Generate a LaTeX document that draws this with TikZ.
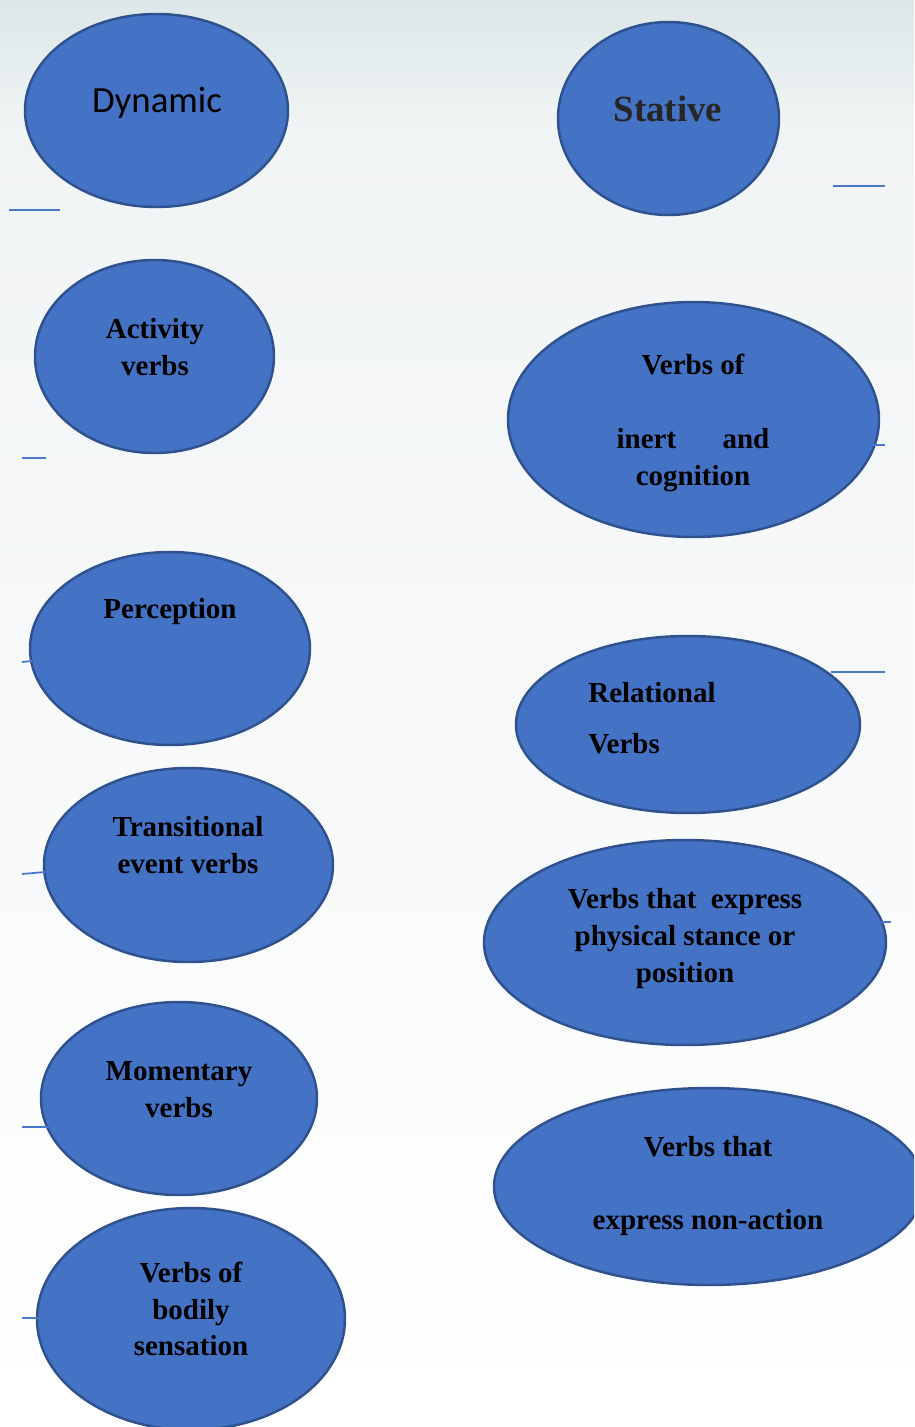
\documentclass[tikz,border=0pt]{standalone}
\usepackage{fontspec}
\setmainfont{Liberation Serif}
\newfontfamily\calfont{Carlito}
\usetikzlibrary{shapes.geometric}
\definecolor{ovfill}{HTML}{4472C4}
\definecolor{ovline}{HTML}{2F528F}
\definecolor{tickc}{HTML}{4A78CC}
\definecolor{bgtop}{HTML}{DCE7E7}
\definecolor{bgmid}{HTML}{F1F4F5}
\definecolor{statc}{HTML}{262626}
\tikzset{
  ov/.style 2 args={ellipse, draw=ovline, fill=ovfill, line width=1.4pt,
    minimum width=#1*0.02cm, minimum height=#2*0.02cm, inner sep=0pt},
  lbl/.style={font=\fontsize{16.5}{21}\selectfont\bfseries, text=black,
    align=center, inner sep=0pt},
  tick/.style={draw=tickc, line width=1pt}
}
\begin{document}
\begin{tikzpicture}[x=0.02cm,y=-0.02cm]
\clip (0,0) rectangle (914,1427);
\useasboundingbox (0,0) rectangle (914,1427);
\shade[top color=bgtop, bottom color=bgmid] (0,0) rectangle (914,130);
\shade[top color=bgmid, bottom color=white] (0,130) rectangle (914,1427);

% ellipses
\node[ov={263}{193}] (dyn) at (156.5,110.5) {};
\node[ov={221}{193}] (sta) at (668.5,118.5) {};
\node[ov={239}{193}] (act) at (154.5,356.5) {};
\node[ov={371}{235}] (ine) at (693.5,419.5) {};
\node[ov={280}{193}] (per) at (170,648.5) {};
\node[ov={344}{177}] (rel) at (688,724.5) {};
\node[ov={289}{194}] (tra) at (188.5,865) {};
\node[ov={402}{205}] (phy) at (685,942.5) {};
\node[ov={276}{193}] (mom) at (179,1098.5) {};
\node[ov={430}{197}] (non) at (709,1186.5) {};
\node[ov={308}{222}] (bod) at (191,1319) {};

% texts
\node[inner sep=0pt, font=\calfont\fontsize{21}{25}\selectfont] (dynT) at (157,103) {Dynamic};
\node[inner sep=0pt, font=\fontsize{21}{25}\selectfont\bfseries, text=statc] (staT) at (668,109) {Stative};
\node[lbl] (actT) at (155,347.5) {Activity\\verbs};
\node[lbl] (ineT) at (693,423) {Verbs of\\[21pt]inert\hspace{1.6em}and\\cognition};
\node[lbl] (perT) at (170,612) {Perception};
\node[lbl, align=left, anchor=west] (relT) at (588,718) {Relational\\[8pt]Verbs};
\node[lbl] (traT) at (188,845) {Transitional\\event verbs};
\node[lbl] (phyT) at (685,938.5) {Verbs that\ \ express\\physical stance or\\position};
\node[lbl] (momT) at (179,1090) {Momentary\\verbs};
\node[lbl] (nonT) at (708,1186) {Verbs that\\[21pt]express non-action};
\node[lbl] (bodT) at (191,1309) {Verbs of\\bodily\\sensation};

% small stray strokes
\coordinate (t1a) at (9,210);   \coordinate (t1b) at (60,210);
\coordinate (t2a) at (833,186); \coordinate (t2b) at (885,186);
\coordinate (t3a) at (22,458);  \coordinate (t3b) at (46,458);
\coordinate (t4a) at (872,445); \coordinate (t4b) at (885,445);
\coordinate (t5a) at (22,662);  \coordinate (t5b) at (32,661);
\coordinate (t6a) at (831,672); \coordinate (t6b) at (885,672);
\coordinate (t7a) at (22,874);  \coordinate (t7b) at (45,872);
\coordinate (t8a) at (881,922); \coordinate (t8b) at (891,922);
\coordinate (t9a) at (22,1127); \coordinate (t9b) at (48,1127);
\coordinate (t10a) at (22,1318); \coordinate (t10b) at (38,1318);
\draw[tick] (t1a) -- (t1b);
\draw[tick] (t2a) -- (t2b);
\draw[tick] (t3a) -- (t3b);
\draw[tick] (t4a) -- (t4b);
\draw[tick] (t5a) -- (t5b);
\draw[tick] (t6a) -- (t6b);
\draw[tick] (t7a) -- (t7b);
\draw[tick] (t8a) -- (t8b);
\draw[tick] (t9a) -- (t9b);
\draw[tick] (t10a) -- (t10b);
\end{tikzpicture}
\end{document}
